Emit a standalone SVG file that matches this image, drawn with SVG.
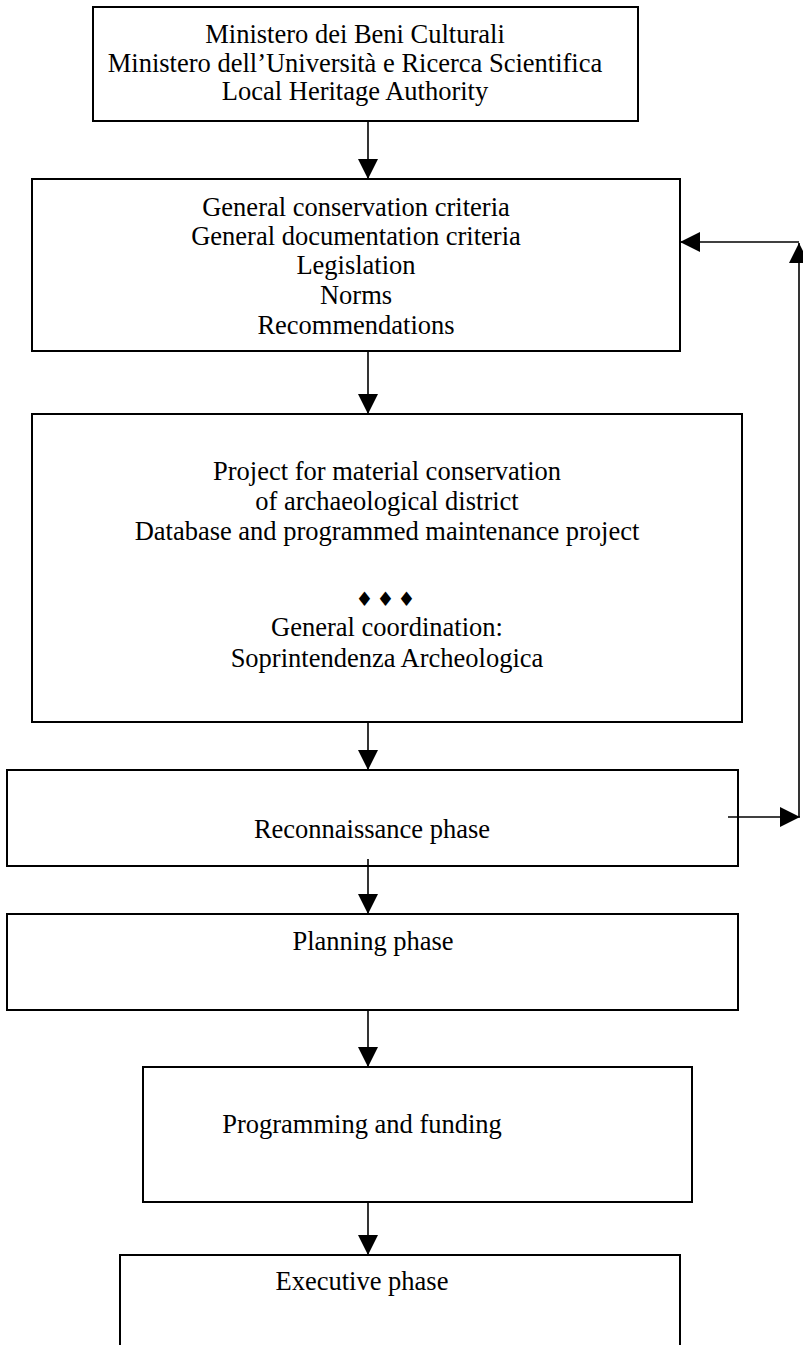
<svg xmlns="http://www.w3.org/2000/svg" width="803" height="1345" viewBox="0 0 803 1345">
<style>
.box{fill:#fff;stroke:#000;stroke-width:2}
.t{font-family:"Liberation Serif","Times New Roman",serif;font-size:26.5px;fill:#000;text-anchor:middle}
.c{stroke:#000;stroke-width:1.6;fill:none}
.sym{font-family:"DejaVu Sans",sans-serif;font-size:20px;fill:#000;text-anchor:middle}
</style>
<defs>
<marker id="ah" markerUnits="userSpaceOnUse" markerWidth="20" markerHeight="20" refX="20" refY="10" orient="auto" viewBox="0 0 20 20">
<path d="M0,0 L20,10 L0,20 Z" fill="#000"/>
</marker>
</defs>
<rect width="803" height="1345" fill="#fff"/>
<g id="n1">
<rect class="box" x="93" y="7" width="545" height="114"/>
<text class="t" x="355" y="43">Ministero dei Beni Culturali</text>
<text class="t" x="355" y="72">Ministero dell’Università e Ricerca Scientifica</text>
<text class="t" x="355" y="100">Local Heritage Authority</text>
</g>
<g id="n2">
<rect class="box" x="32" y="179" width="648" height="172"/>
<text class="t" x="356" y="216">General conservation criteria</text>
<text class="t" x="356" y="245">General documentation criteria</text>
<text class="t" x="356" y="274">Legislation</text>
<text class="t" x="356" y="304">Norms</text>
<text class="t" x="356" y="334">Recommendations</text>
</g>
<g id="n3">
<rect class="box" x="32" y="414" width="710" height="308"/>
<text class="t" x="387" y="480">Project for material conservation</text>
<text class="t" x="387" y="510">of  archaeological district</text>
<text class="t" x="387" y="540">Database and programmed maintenance project</text>
<text class="sym" x="387" y="606" letter-spacing="3">♦♦♦</text>
<text class="t" x="387" y="636">General coordination:</text>
<text class="t" x="387" y="667">Soprintendenza Archeologica</text>
</g>
<g id="n4">
<rect class="box" x="7" y="770" width="731" height="96"/>
<text class="t" x="372" y="838">Reconnaissance phase</text>
</g>
<g id="n5">
<rect class="box" x="7" y="914" width="731" height="96"/>
<text class="t" x="373" y="950">Planning phase</text>
</g>
<g id="n6">
<rect class="box" x="143" y="1067" width="549" height="135"/>
<text class="t" x="362" y="1133">Programming and funding</text>
</g>
<g id="n7">
<path class="box" d="M120,1346 V1255 H680 V1346"/>
<text class="t" x="362" y="1290">Executive phase</text>
</g>
<g id="connectors">
<line class="c" x1="368" y1="121" x2="368" y2="179" marker-end="url(#ah)"/>
<line class="c" x1="368" y1="351" x2="368" y2="414" marker-end="url(#ah)"/>
<line class="c" x1="368" y1="722" x2="368" y2="770" marker-end="url(#ah)"/>
<line class="c" x1="368" y1="859" x2="368" y2="914" marker-end="url(#ah)"/>
<line class="c" x1="368" y1="1010" x2="368" y2="1067" marker-end="url(#ah)"/>
<line class="c" x1="368" y1="1202" x2="368" y2="1255" marker-end="url(#ah)"/>
<line class="c" x1="728" y1="817" x2="800" y2="817" marker-end="url(#ah)"/>
<line class="c" x1="799" y1="817" x2="799" y2="243" marker-end="url(#ah)"/>
<line class="c" x1="799" y1="242" x2="680" y2="242" marker-end="url(#ah)"/>
</g>
</svg>
